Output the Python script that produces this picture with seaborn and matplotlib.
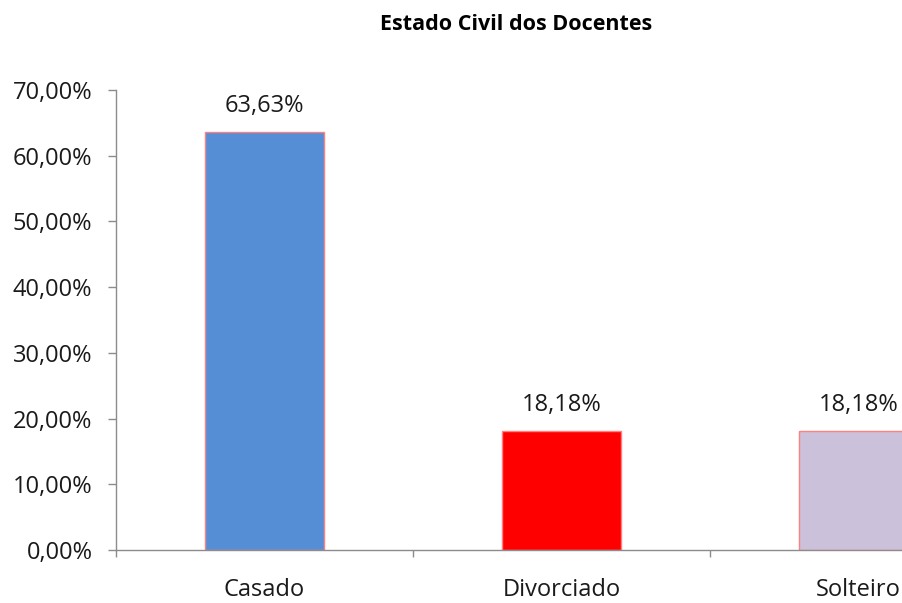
import matplotlib
matplotlib.use("Agg")
import matplotlib.pyplot as plt
import matplotlib.ticker as mticker
import seaborn as sns
import pandas as pd

categories = ["Casado", "Divorciado", "Solteiro"]
values = [63.63, 18.18, 18.18]
value_labels = ["63,63%", "18,18%", "18,18%"]
colors = ["#558ED5", "#FF0000", "#CCC1DA"]
title = "Estado Civil dos Docentes"

sns.set_style("white")
plt.rcParams["font.family"] = ["Open Sans", "DejaVu Sans"]

df = pd.DataFrame({"cat": categories, "val": values})

W, H = 903, 603
fig = plt.figure(figsize=(W / 100, H / 100), dpi=100)
left, right, top, bottom = 116, 1007, 90, 550
ax = fig.add_axes([left / W, (H - bottom) / H, (right - left) / W, (bottom - top) / H])

sns.barplot(data=df, x="cat", y="val", hue="cat", palette=colors, legend=False,
            width=0.4, edgecolor="#FF8080", linewidth=1.0, saturation=1, ax=ax)

ax.set_xlim(-0.5, 2.5)
ax.set_ylim(0, 70)
ax.yaxis.set_major_locator(mticker.MultipleLocator(10))
ax.yaxis.set_major_formatter(mticker.FuncFormatter(lambda v, p: f"{v:.2f}%".replace(".", ",")))
ax.set_xlabel("")
ax.set_ylabel("")

for s in ["top", "right"]:
    ax.spines[s].set_visible(False)
for s in ["left", "bottom"]:
    ax.spines[s].set_color("#8C8C8C")
    ax.spines[s].set_linewidth(1.0)

fs = 17
ax.tick_params(axis="y", direction="out", length=6, width=1, color="#8C8C8C",
               labelsize=fs, pad=11, labelcolor="#1a1a1a", left=True)
ax.set_xticks(range(len(categories)))
ax.set_xticklabels(categories)
ax.tick_params(axis="x", which="major", length=0, pad=20, labelsize=fs, labelcolor="#1a1a1a")
ax.set_xticks([-0.5, 0.5, 1.5, 2.5], minor=True)
ax.tick_params(axis="x", which="minor", direction="out", length=5, width=1,
               color="#8C8C8C", bottom=True)

for i, (v, lab) in enumerate(zip(values, value_labels)):
    ax.annotate(lab, (i, v), xytext=(0, 10), textcoords="offset points",
                ha="center", va="bottom", fontsize=fs, color="#1a1a1a")

fig.text(516 / W, 1 - 24 / H, title, ha="center", va="center",
         fontsize=15.5, fontweight="bold", color="#000000")

fig.savefig("out.png", dpi=100)
